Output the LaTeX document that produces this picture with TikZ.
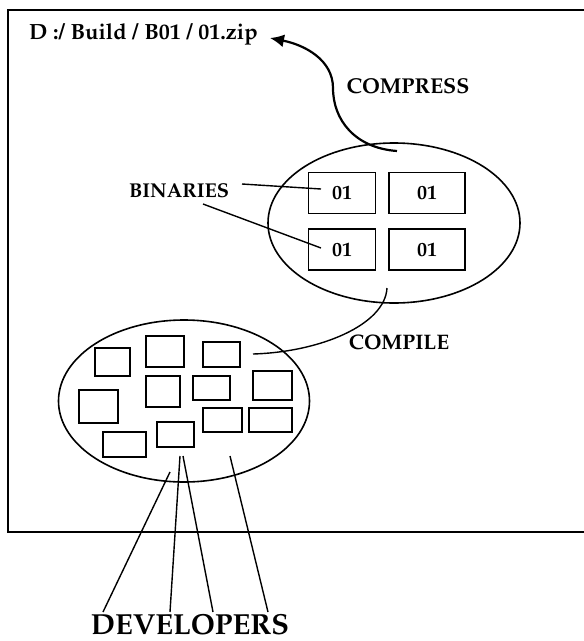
\documentclass[tikz,border=0pt]{standalone}
\usepackage[T1]{fontenc}
\usepackage{mathpazo}
\usetikzlibrary{positioning,shapes.geometric,arrows.meta}
\tikzstyle{BuildCloud}=[ellipse, draw, line width=1.6pt, minimum width=252pt, minimum height=160pt, inner sep=0pt]
\tikzstyle{BinBox}=[rectangle, draw, line width=1.6pt, minimum width=67pt, minimum height=41pt, inner sep=0pt, font=\fontsize{20}{24}\selectfont\bfseries]
\tikzstyle{DevBox}=[rectangle, draw, line width=1.6pt, inner sep=0pt]
\tikzstyle{TagText}=[inner sep=0pt, anchor=base, font=\fontsize{21}{25}\selectfont\bfseries]
\tikzstyle{BigTag}=[inner sep=0pt, anchor=base, font=\fontsize{29}{34}\selectfont\bfseries]
\tikzstyle{Linea}=[line width=1.4pt]
\tikzstyle{ZipArrow}=[-{Latex[length=14pt, width=13pt]}, line width=2.2pt]

\begin{document}
\begin{tikzpicture}[x=1pt, y=-1pt]
			\useasboundingbox (0,0) rectangle (584,641);
			%Marco
			\draw[line width=2pt] (584,10) -- (8,10) -- (8,532) -- (584,532);

			%Nodos
			\node[TagText, anchor=base west, font=\fontsize{22}{26}\selectfont\bfseries]	(zipfile)	at (29,39)	{D :/ Build / B01 / 01.zip};
			\node[TagText, font=\fontsize{21.5}{26}\selectfont\bfseries]	(compress)	at (408,93)	{COMPRESS};

			\node[BuildCloud]				(bincloud)		at (394,223)	{};
			\node[BinBox]					(bin1)			at (342,193)	{01};
			\node[BinBox, minimum width=76pt]	(bin2)		[right=12pt of bin1]	{01};
			\node[BinBox]					(bin3)			[below=14pt of bin1]	{01};
			\node[BinBox, minimum width=76pt]	(bin4)		[right=12pt of bin3]	{01};
			\node[TagText, font=\fontsize{20}{24}\selectfont\bfseries]	(binaries)	at (179,197)	{BINARIES};

			\node[TagText]					(compile)		at (399,349)	{COMPILE};

			\node[BuildCloud, minimum width=251pt, minimum height=162pt]	(devcloud)	at (184,401)	{};
			\node[DevBox, minimum width=35pt, minimum height=28pt]	(dev1)		at (112.5,362)	{};
			\node[DevBox, minimum width=38pt, minimum height=31pt]	(dev2)		at (165,351.5)	{};
			\node[DevBox, minimum width=37pt, minimum height=25pt]	(dev3)		at (221.5,354.5)	{};
			\node[DevBox, minimum width=34pt, minimum height=31pt]	(dev4)		at (163,391.5)	{};
			\node[DevBox, minimum width=37pt, minimum height=24pt]	(dev5)		at (211.5,388)	{};
			\node[DevBox, minimum width=39pt, minimum height=29pt]	(dev6)		at (272.5,385.5)	{};
			\node[DevBox, minimum width=39pt, minimum height=33pt]	(dev7)		at (98.5,406.5)	{};
			\node[DevBox, minimum width=39pt, minimum height=24pt]	(dev8)		at (222.5,420)	{};
			\node[DevBox, minimum width=43pt, minimum height=24pt]	(dev9)		at (270.5,420)	{};
			\node[DevBox, minimum width=43pt, minimum height=25pt]	(dev10)		at (124.5,444.5)	{};
			\node[DevBox, minimum width=37pt, minimum height=25pt]	(dev11)		at (175.5,434.5)	{};

			\node[BigTag]					(developers)	at (190,634)	{DEVELOPERS};

			%Puntos
			\coordinate (zipTip)		at (270,38);
			\coordinate (compressFrom)	at (397,151);
			\coordinate (compileFrom)	at (387,288);
			\coordinate (compileTo)		at (253,354);
			\coordinate (binA)			at (242,184);
			\coordinate (binAin)		at (321,189);
			\coordinate (binB)			at (203,204);
			\coordinate (binBin)		at (321,248);
			\coordinate (devOut1)		at (103,612);
			\coordinate (devOut2)		at (170,612);
			\coordinate (devOut3)		at (213,612);
			\coordinate (devOut4)		at (268,612);
			\coordinate (devIn1)		at (170,472);
			\coordinate (devIn2)		at (180,456);
			\coordinate (devIn3)		at (183,456);
			\coordinate (devIn4)		at (230,456);

			%Lineas
			\draw[ZipArrow] (compressFrom) .. controls (355,148) and (333,120) .. (333,88) .. controls (333,60) and (305,45) .. (zipTip);
			\draw[Linea] (compileFrom) .. controls (385,325) and (320,352) .. (compileTo);
			\draw[Linea] (binA) -- (binAin);
			\draw[Linea] (binB) -- (binBin);
			\draw[Linea] (devOut1) -- (devIn1);
			\draw[Linea] (devOut2) -- (devIn2);
			\draw[Linea] (devOut3) -- (devIn3);
			\draw[Linea] (devOut4) -- (devIn4);

		\end{tikzpicture}
\end{document}
